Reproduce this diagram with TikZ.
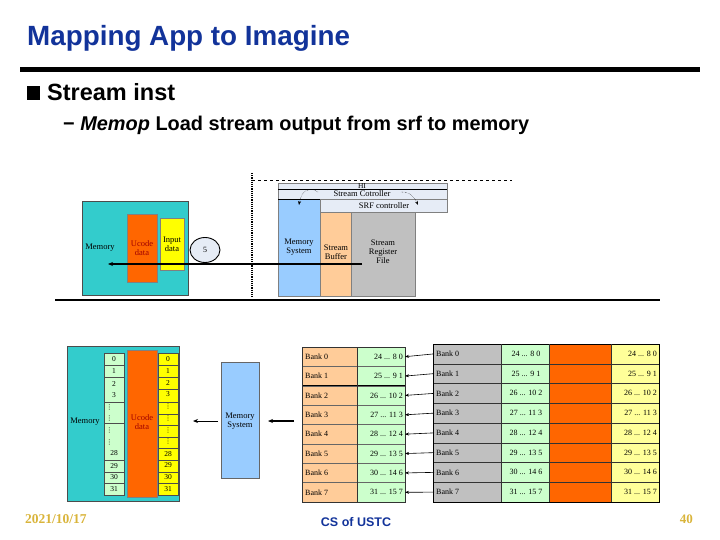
\documentclass[tikz,border=0pt]{standalone}
\usepackage{fontspec}
\setmainfont{Liberation Serif}
\newfontfamily\arialf{Liberation Sans}
\newfontfamily\dejavuf{DejaVu Sans}
\usetikzlibrary{arrows.meta,shapes.geometric}
\definecolor{titleblue}{HTML}{12339A}
\definecolor{boxteal}{HTML}{33CCCC}
\definecolor{ucode}{HTML}{FF6600}
\definecolor{inyel}{HTML}{FFFF00}
\definecolor{memblue}{HTML}{99CCFF}
\definecolor{peach}{HTML}{FFCC99}
\definecolor{srfgray}{HTML}{C0C0C0}
\definecolor{ltgreen}{HTML}{CCFFCC}
\definecolor{ltyel}{HTML}{FFFF99}
\definecolor{ctrlbg}{HTML}{E6ECF6}
\definecolor{goldtxt}{HTML}{D9B43A}
\definecolor{ucodetxt}{HTML}{A00000}
\newcommand{\vdt}{{\dejavuf\fontsize{6.5}{7}\selectfont ⋮}}
\tikzset{
  lbl/.style={font=\fontsize{8.5}{9}\selectfont, align=center, inner sep=0pt},
  small/.style={font=\fontsize{7.5}{8}\selectfont, inner sep=0pt},
  bank/.style={font=\fontsize{8}{8.5}\selectfont, inner sep=0pt},
  arr/.style={-{Stealth[length=5pt,width=4pt]}, line width=1pt},
  tarr/.style={-{Stealth[length=4pt,width=3pt]}, line width=0.6pt},
}
\begin{document}
\begin{tikzpicture}[x=1pt,y=-1pt]
\useasboundingbox (0,0) rectangle (720,540);
% ---- header
\node[anchor=base west, font=\arialf\bfseries\fontsize{27.8}{29}\selectfont, text=titleblue, inner sep=0pt] (title) at (27,46) {Mapping App to Imagine};
\fill (20,67.5) rectangle (700,72.5);
\fill (27,86) rectangle (40,100);
\node[anchor=base west, font=\arialf\bfseries\fontsize{23.5}{25}\selectfont, inner sep=0pt] (b1) at (47,101) {Stream inst};
\node[anchor=base west, font=\arialf\bfseries\fontsize{19.9}{21}\selectfont, inner sep=0pt] (b2) at (63,131) {− \textit{Memop} Load stream output from srf to memory};

% ---- upper diagram
\draw[densely dotted, line width=1.2pt] (252,173) -- (252,297);
\draw[dashed, line width=0.5pt] (252,180) -- (512,180);
\filldraw[fill=ctrlbg, draw=gray] (278,183) rectangle (447,189);
\filldraw[fill=ctrlbg, draw=gray] (278,189) rectangle (447,199);
\draw[line width=0.7pt] (278,189) -- (447,189);
\filldraw[fill=ctrlbg, draw=gray] (320,199) rectangle (447,212);
\filldraw[fill=memblue, draw=gray] (278,199) rectangle (320,296);
\draw[line width=0.7pt] (278,199) -- (320,199);
\filldraw[fill=peach, draw=gray] (320,212) rectangle (351,296);
\filldraw[fill=srfgray, draw=gray] (351,212) rectangle (415,296);
\node[small] (hi) at (362,186) {HI};
\node[lbl] (sc) at (362,194) {Stream Cotroller};
\node[lbl] (srfc) at (384,205.5) {SRF controller};
\node[lbl] (ms) at (299,247) {Memory\\System};
\node[lbl] (sb) at (336,252) {Stream\\Buffer};
\node[lbl] (srf) at (383,252) {Stream\\Register\\File};
\coordinate (c1s) at (318,192);
\coordinate (c1e) at (299,205);
\coordinate (c2s) at (401,192);
\coordinate (c2e) at (418,205);
\draw[densely dotted, -{Stealth[length=4pt,width=3pt]}] (c1s) .. controls (310,186) and (301,191) .. (c1e);
\draw[densely dotted, -{Stealth[length=4pt,width=3pt]}] (c2s) .. controls (410,192) and (414,196) .. (c2e);

\filldraw[fill=boxteal, draw=black!70, line width=0.6pt] (82,201) rectangle (188,295);
\filldraw[fill=ucode, draw=black!50] (127,214) rectangle (157,282);
\filldraw[fill=inyel, draw=black!50] (160,218) rectangle (184,270);
\node[lbl] (mem1) at (100,248) {Memory};
\node[lbl, text=ucodetxt] (uc1) at (142,248) {Ucode\\data};
\node[lbl] (in1) at (172,244) {Input\\data};
\node[ellipse, draw, line width=0.9pt, fill=ctrlbg, minimum width=30pt, minimum height=25pt, inner sep=0pt, font=\fontsize{8}{9}\selectfont] (five) at (205,250) {5};
\coordinate (a1s) at (362,264);
\coordinate (a1e) at (108,264);
\draw[arr, line width=1.1pt] (a1s) -- (a1e);
\draw[line width=1.2pt] (55,300) -- (660,300);

% ---- lower left
\filldraw[fill=boxteal, draw=black!70, line width=0.6pt] (67,346) rectangle (179,501);
\filldraw[fill=ltgreen, draw=black!70] (104,353) rectangle (124,495);
\foreach \y in {365,377,402,423,460,472,483} \draw[black!70] (104,\y) -- (124,\y);
\node[small] (g0) at (114,359) {0};
\node[small] (g1) at (114,371) {1};
\node[small, align=center] (g2) at (114,389.5) {2\\[3pt]3};
\node[small, anchor=west] (g3a) at (106,407) {\vdt};
\node[small, anchor=west] (g3b) at (106,418) {\vdt};
\node[small, anchor=west] (g4a) at (106,430) {\vdt};
\node[small, anchor=west] (g4b) at (106,442) {\vdt};
\node[small] (g5) at (114,453) {28};
\node[small] (g6) at (114,466) {29};
\node[small] (g7) at (114,477.5) {30};
\node[small] (g8) at (114,489) {31};
\filldraw[fill=ucode, draw=black!50] (127,350) rectangle (157,497);
\node[lbl, text=ucodetxt] (uc2) at (142,422) {Ucode\\data};
\filldraw[fill=inyel, draw=black!70] (158,353) rectangle (178,495);
\foreach \y in {365,377,389,402,414,425,437,448,460,472,483} \draw[black!70] (158,\y) -- (178,\y);
\foreach \t [count=\i from 0] in {0,1,2,3,\vdt,\vdt,\vdt,\vdt,28,29,30,31}
  \node[small] (y\i) at (168,{359+\i*11.83}) {\t};
\node[lbl] (mem2) at (85,422) {Memory};
\filldraw[fill=memblue, draw=black!60] (221,362) rectangle (259,478);
\node[lbl] (ms2) at (240,421) {Memory\\System};
\coordinate (a2s) at (218,421);
\coordinate (a2e) at (193,421);
\coordinate (a3s) at (294,421);
\coordinate (a3e) at (268,421);
\draw[arr] (a2s) -- (a2e);
\draw[arr, line width=1.3pt] (a3s) -- (a3e);

% ---- table 1
\fill[peach] (302,347) rectangle (357,502);
\fill[ltgreen] (357,347) rectangle (405,502);
\foreach \k in {0,...,7}{
  \pgfmathsetmacro{\yc}{347+(\k+0.5)*19.375}
  \node[bank, anchor=west] (p\k) at (305,\yc) {Bank \k};
  \pgfmathtruncatemacro{\hi}{24+\k}
  \pgfmathtruncatemacro{\mi}{8+\k}
  \node[bank, anchor=east] (q\k) at (403,\yc) {\hi\ ... \mi\ \k};
  \coordinate (r\k) at (405,\yc);
}
\foreach \k in {1,...,7} \draw[black!60, line width=0.4pt] (302,{347+\k*19.375}) -- (405,{347+\k*19.375});
\draw[black, line width=0.7pt] (302,385.75) -- (405,385.75);
\draw[black!80, line width=0.6pt] (302,347) rectangle (405,502);
\draw[black!80, line width=0.6pt] (357,347) -- (357,502);

% ---- table 2
\fill[srfgray] (433,344) rectangle (501,502);
\fill[ltgreen] (501,344) rectangle (549,502);
\fill[ucode] (549,344) rectangle (611,502);
\fill[ltyel] (611,344) rectangle (659,502);
\foreach \k in {0,...,7}{
  \pgfmathsetmacro{\yd}{344+(\k+0.5)*19.75}
  \node[bank, anchor=west] (s\k) at (436,\yd) {Bank \k};
  \pgfmathtruncatemacro{\hi}{24+\k}
  \pgfmathtruncatemacro{\mi}{8+\k}
  \node[bank] (u\k) at (526,\yd) {\hi\ ... \mi\ \k};
  \node[bank, anchor=east] (v\k) at (657,\yd) {\hi\ ... \mi\ \k};
}
\foreach \k in {1,...,7} \draw[black!80, line width=0.5pt] (433,{344+\k*19.75}) -- (659,{344+\k*19.75});
\draw[black, line width=0.7pt] (433,344) rectangle (659,502);
\foreach \x in {501,549,611} \draw[black!80, line width=0.5pt] (\x,344) -- (\x,502);
\foreach \k in {0,...,7} \draw[tarr] (s\k.west -| 434,0 |- r\k) -- (r\k);

% ---- footer
\node[anchor=base west, font=\bfseries\fontsize{13.5}{14}\selectfont, text=goldtxt, inner sep=0pt] (date) at (25,523) {2021/10/17};
\node[anchor=base, font=\arialf\bfseries\fontsize{12.5}{14}\selectfont, text=titleblue, inner sep=0pt] (cs) at (356,526) {CS of USTC};
\node[anchor=base east, font=\bfseries\fontsize{13}{14}\selectfont, text=goldtxt, inner sep=0pt] (pg) at (693,523) {40};
\end{tikzpicture}
\end{document}
